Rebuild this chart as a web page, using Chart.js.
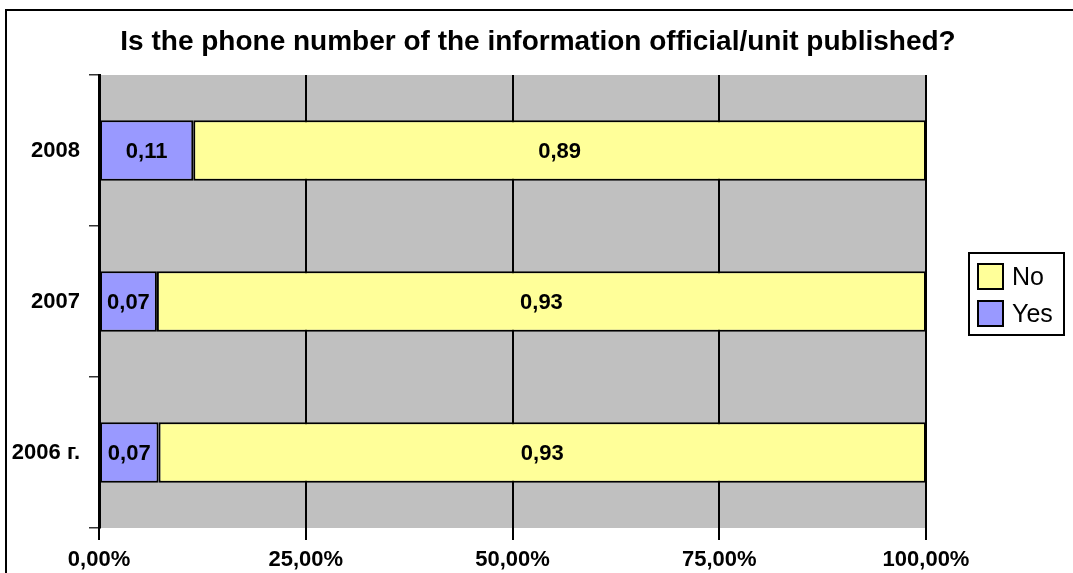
<!DOCTYPE html>
<html>
<head>
<meta charset="utf-8">
<script src="https://cdn.jsdelivr.net/npm/chart.js@4.4.1/dist/chart.umd.min.js"></script>
<style>
  body { margin: 0; background: #fff; }
  #wrap { width: 1073px; height: 573px; }
</style>
</head>
<body>
<div id="wrap"><canvas id="myBarChart" width="1073" height="573"></canvas></div>
<script>
// chart data
const years = ['2008', '2007', '2006 г.'];
const seriesNames = ['Yes', 'No'];
const yesValues = [0.114, 0.070, 0.072];
const noValues = [0.886, 0.930, 0.928];
const xTicks = [0, 0.25, 0.5, 0.75, 1];

const chartTitle = 'Is the phone number of the information official/unit published?';
const fontFamily = '"Liberation Sans", Arial, sans-serif';

// white page, outer frame, title and the gray plot area
const backgroundPlugin = {
    id: 'background',
    beforeDraw(chart) {
        const ctx = chart.ctx;
        const a = chart.chartArea;
        ctx.save();
        ctx.fillStyle = '#ffffff';
        ctx.fillRect(0, 0, chart.width, chart.height);
        ctx.fillStyle = '#C0C0C0';
        ctx.fillRect(a.left, a.top, a.right - a.left, a.bottom - a.top);
        ctx.strokeStyle = '#000';
        ctx.lineWidth = 2;
        ctx.strokeRect(6, 10, chart.width + 20, chart.height + 20);
        // title centered on the whole page, not the plot
        ctx.fillStyle = '#000';
        ctx.font = 'bold 28px ' + fontFamily;
        ctx.textAlign = 'center';
        ctx.textBaseline = 'middle';
        ctx.fillText(chartTitle, 538, 42);
        ctx.restore();
    }
};

// value labels in the middle of each bar
const valueLabelPlugin = {
    id: 'valueLabels',
    afterDatasetsDraw(chart) {
        const ctx = chart.ctx;
        ctx.save();
        ctx.font = 'bold 22px ' + fontFamily;
        ctx.fillStyle = '#000';
        ctx.textAlign = 'center';
        ctx.textBaseline = 'middle';
        chart.data.datasets.forEach((ds, i) => {
            const meta = chart.getDatasetMeta(i);
            meta.data.forEach((bar, j) => {
                const txt = ds.data[j].toFixed(2).replace('.', ',');
                ctx.fillText(txt, (bar.x + bar.base) / 2, bar.y + 1);
            });
        });
        ctx.restore();
    }
};

// boxed legend on the right, No above Yes
const boxLegendPlugin = {
    id: 'boxLegend',
    afterDraw(chart) {
        const ctx = chart.ctx;
        const a = chart.chartArea;
        const left = a.right + 43;
        const top = 253;
        ctx.save();
        ctx.strokeStyle = '#000';
        ctx.lineWidth = 2;
        ctx.fillStyle = '#fff';
        ctx.fillRect(left, top, 95, 82);
        ctx.strokeRect(left, top, 95, 82);
        ctx.font = '25px ' + fontFamily;
        ctx.textBaseline = 'middle';
        const items = chart.data.datasets.slice().reverse();
        items.forEach((ds, i) => {
            const y = top + 11 + i * 37;
            ctx.fillStyle = ds.backgroundColor;
            ctx.fillRect(left + 9, y, 25, 25);
            ctx.strokeRect(left + 9, y, 25, 25);
            ctx.fillStyle = '#000';
            ctx.fillText(ds.label, left + 43, y + 14);
        });
        ctx.restore();
    }
};

const ctx = document.getElementById('myBarChart').getContext('2d');

const myBarChart = new Chart(ctx, {
    type: 'bar',
    data: {
        labels: years,
        datasets: [{
            label: seriesNames[0],
            data: yesValues,
            backgroundColor: '#9999FF',
            borderColor: '#000',
            borderWidth: 2,
            borderSkipped: false
        }, {
            label: seriesNames[1],
            data: noValues,
            backgroundColor: '#FFFF99',
            borderColor: '#000',
            borderWidth: 2,
            borderSkipped: false
        }]
    },
    options: {
        indexAxis: 'y',
        responsive: false,
        animation: false,
        devicePixelRatio: 1,
        layout: {
            padding: { left: 0, right: 147, top: 75, bottom: 0 }
        },
        datasets: {
            bar: { categoryPercentage: 1, barPercentage: 0.4 }
        },
        plugins: {
            legend: { display: false },
            tooltip: { enabled: false },
            title: { display: false }
        },
        scales: {
            x: {
                stacked: true,
                min: 0,
                max: 1,
                afterBuildTicks(scale) {
                    scale.ticks = xTicks.map(v => ({ value: v }));
                },
                afterFit(scale) {
                    scale.height = 45;
                },
                ticks: {
                    color: '#000',
                    padding: 7,
                    maxRotation: 0,
                    font: { family: fontFamily, size: 22, weight: 'bold' },
                    callback: v => (v * 100).toFixed(2).replace('.', ',') + '%'
                },
                grid: {
                    color: '#000',
                    lineWidth: 2,
                    tickLength: 12
                },
                border: { display: false }
            },
            y: {
                stacked: true,
                afterFit(scale) {
                    scale.width = 99;
                },
                ticks: {
                    color: '#000',
                    padding: 9,
                    font: { family: fontFamily, size: 22, weight: 'bold' }
                },
                grid: {
                    offset: true,
                    drawOnChartArea: false,
                    color: '#333',
                    lineWidth: 1.5,
                    tickLength: 10
                },
                border: { display: true, color: '#000', width: 3 }
            }
        }
    },
    plugins: [backgroundPlugin, valueLabelPlugin, boxLegendPlugin]
});
</script>
</body>
</html>
